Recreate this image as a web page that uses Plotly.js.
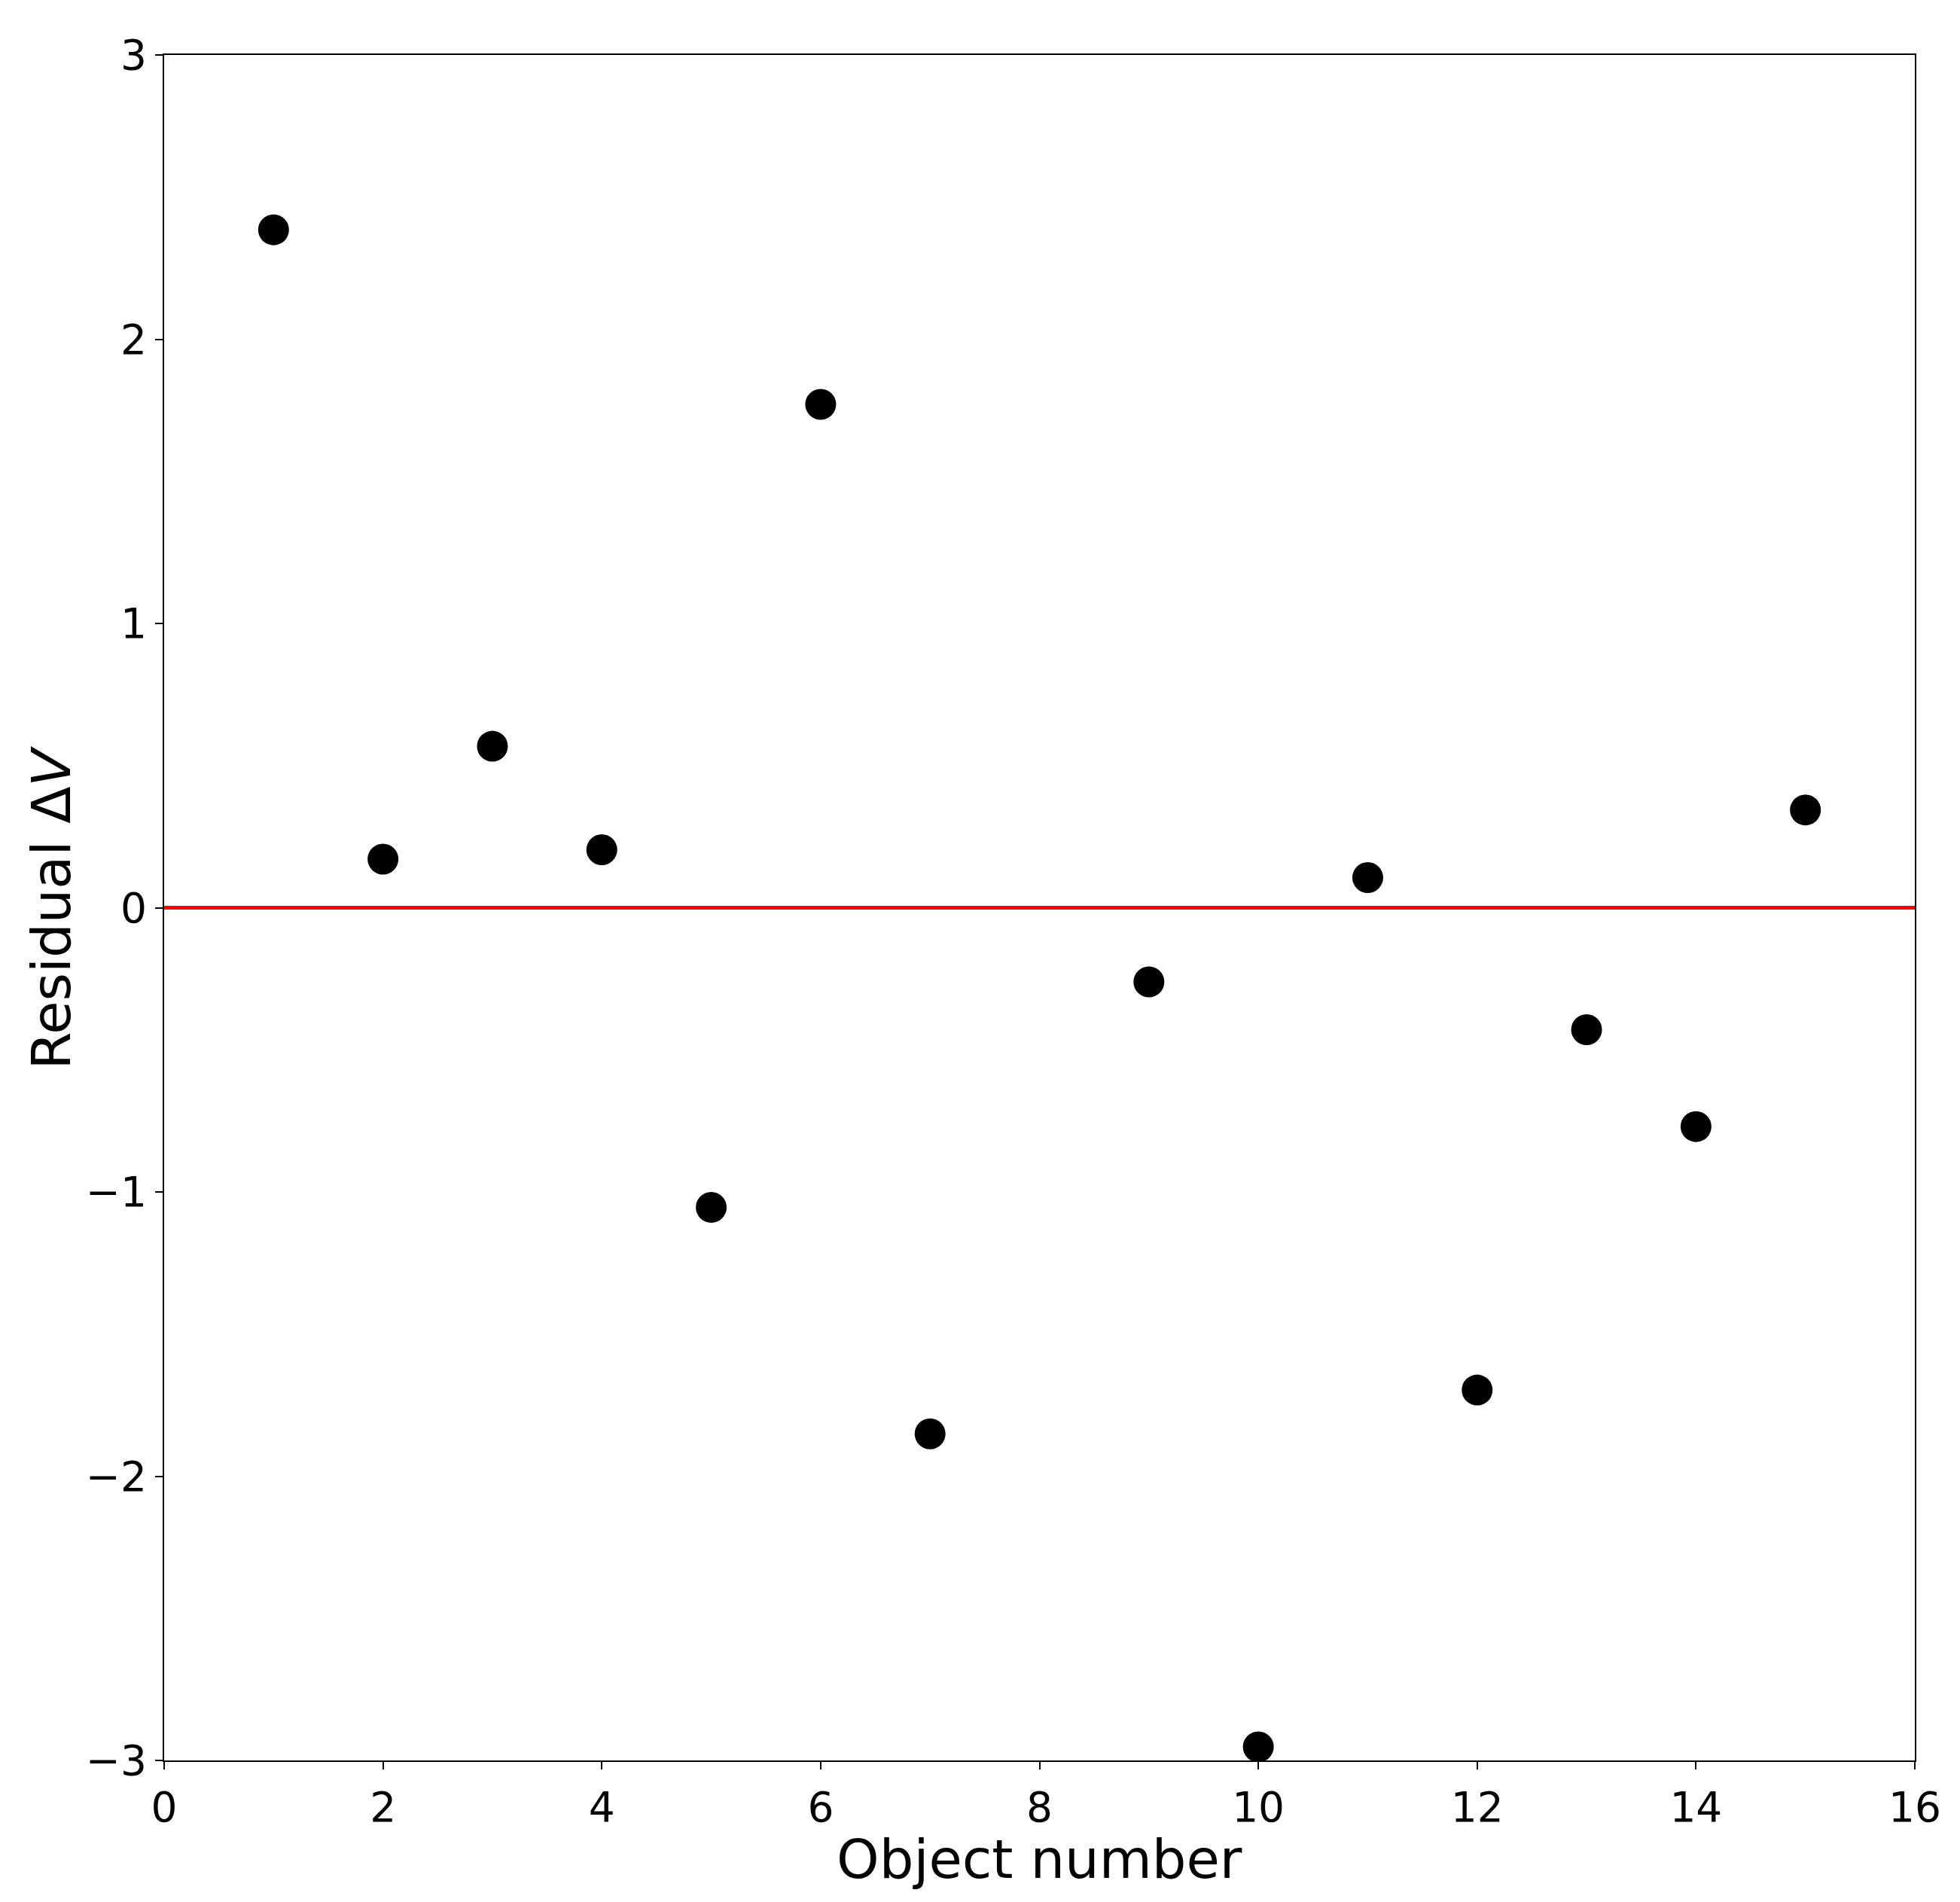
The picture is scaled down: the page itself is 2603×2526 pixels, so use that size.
<!DOCTYPE html>
<html>
<head>
<meta charset="utf-8">
<script src="https://cdn.plot.ly/plotly-3.0.1.min.js"></script>
<style>
  html, body { margin: 0; padding: 0; background: #fff; }
  #myDiv { width: 2603px; height: 2526px; }
</style>
</head>
<body>
<div id="myDiv"></div>
<script>
// object numbers (no object 8) and their residuals
var objectNumber = [1, 2, 3, 4, 5, 6, 7, 9, 10, 11, 12, 13, 14, 15];
var residual = [2.385, 0.171, 0.568, 0.204, -1.054, 1.771, -1.851, -0.261, -2.952, 0.106, -1.697, -0.429, -0.770, 0.344];

var xTicks = [0, 2, 4, 6, 8, 10, 12, 14, 16];
var yTicks = [-3, -2, -1, 0, 1, 2, 3];

var xLabel = 'Object number';
var yLabel = 'Residual Δ<i>V</i>';

var font = 'DejaVu Sans, sans-serif';

var trace1 = {
  x: objectNumber,
  y: residual,
  mode: 'markers',
  type: 'scatter',
  marker: {color: 'black', size: 41, line: {width: 0}},
  showlegend: false
};

var layout = {
  width: 2603,
  height: 2526,
  margin: {l: 218, r: 60, t: 73, b: 188},
  paper_bgcolor: 'white',
  plot_bgcolor: 'white',
  font: {family: font, color: 'black'},
  xaxis: {
    range: [0, 16],
    tickvals: xTicks,
    showgrid: false,
    zeroline: false,
    showline: true,
    mirror: true,
    linecolor: 'black',
    linewidth: 2.2,
    ticks: 'outside',
    ticklen: 10,
    tickwidth: 2.2,
    tickcolor: 'black',
    ticklabelstandoff: 3,
    tickfont: {family: font, size: 55, color: 'black'}
  },
  yaxis: {
    range: [-3, 3],
    tickvals: yTicks,
    showgrid: false,
    zeroline: false,
    showline: true,
    mirror: true,
    linecolor: 'black',
    linewidth: 2.2,
    ticks: 'outside',
    ticklen: 10,
    tickwidth: 2.2,
    tickcolor: 'black',
    ticklabelstandoff: 0,
    tickfont: {family: font, size: 55, color: 'black'}
  },
  // axis titles placed as annotations so they sit where the original has them
  annotations: [
    {
      text: xLabel, showarrow: false,
      xref: 'paper', yref: 'paper', x: 0.5, y: -0.058,
      xanchor: 'center', yanchor: 'middle', borderpad: 0,
      font: {family: font, size: 72, color: 'black'}
    },
    {
      text: yLabel, showarrow: false, textangle: -90,
      xref: 'paper', yref: 'paper', x: -0.0649, y: 0.5,
      xanchor: 'center', yanchor: 'middle', borderpad: 0,
      font: {family: font, size: 72, color: 'black'}
    }
  ],
  shapes: [{
    type: 'line',
    xref: 'paper', x0: 0, x1: 1,
    yref: 'y', y0: 0, y1: 0,
    line: {color: 'red', width: 5}
  }]
};

Plotly.newPlot('myDiv', [trace1], layout, {displayModeBar: false});
</script>
</body>
</html>
